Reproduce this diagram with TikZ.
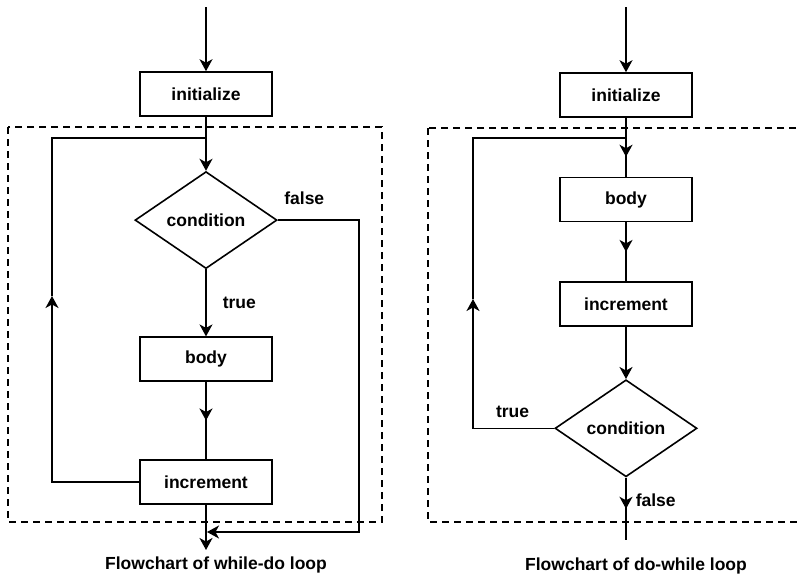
\documentclass[tikz,border=0pt]{standalone}
\usepackage{fontspec}
\setmainfont{Liberation Sans}
\usetikzlibrary{shapes.geometric, arrows.meta, positioning,
                decorations.markings, calc}
\tikzset{
  txt/.style={font=\fontsize{17.5}{20}\selectfont\bfseries},
  box/.style={
    rectangle, draw, line width=1.6pt, minimum width=132pt,
    minimum height=44pt, inner sep=0pt, txt
  },
  cond/.style={
    diamond, draw, line width=1.6pt, minimum width=142pt,
    minimum height=97pt, inner sep=0pt, txt
  },
  line/.style={line width=1.6pt},
  arr/.style={line, -{Stealth[length=12pt, width=13pt, inset=3.5pt]}},
  midarr/.style={line, decoration={markings,
      mark=at position #1 with {\arrow{Stealth[length=12pt, width=13pt, inset=3.5pt]}}},
    postaction=decorate},
  midarr/.default=0.5,
  lbl/.style={txt, inner sep=1pt},
  frame/.style={line width=1.6pt, dash pattern=on 7pt off 5pt},
  captxt/.style={txt, inner sep=0pt}
}

\begin{document}
\begin{tikzpicture}[x=1pt, y=-1pt]
  \useasboundingbox (0,0) rectangle (798,576);

  % while-do loop
  \node[box] (ini1) at (206,94) {initialize};
  \node[cond, below=54pt of ini1] (cnd1) {condition};
  \node[box, below=67pt of cnd1] (bdy1) {body};
  \node[box, below=77pt of bdy1] (inc1) {increment};
  \coordinate (in1)  at (206,7);
  \coordinate (jn1)  at (206,138);
  \coordinate (up1)  at (52,296);
  \coordinate (fr1)  at (359,532);
  \coordinate (fj1)  at (207,532);
  \coordinate (out1) at (206,550);

  \draw[frame] (8,127) rectangle (382,522);
  \draw[arr] (in1) -- (ini1);
  \draw[arr] (ini1) -- (cnd1);
  \draw[arr] (cnd1) -- node[lbl, right=15pt] {true} (bdy1);
  \draw[midarr] (bdy1) -- (inc1);
  \draw[arr] (inc1) -- (out1);
  \draw[arr] (inc1.west) -| (up1);
  \draw[line] (up1) |- (jn1);
  \draw[arr] (cnd1.east) -| node[lbl, pos=0.163, above=14pt] {false} (fr1) |- (fj1);
  \node[captxt] (cap1) at (216,565) {Flowchart of while-do loop};

  % do-while loop
  \node[box] (ini2) at (626,95) {initialize};
  \node[box, below=59pt of ini2] (bdy2) {body};
  \node[box, below=59pt of bdy2] (inc2) {increment};
  \node[cond, below=52pt of inc2] (cnd2) {condition};
  \coordinate (in2)  at (626,7);
  \coordinate (jn2)  at (626,138);
  \coordinate (up2)  at (473,299);
  \coordinate (out2) at (626,540);

  \draw[frame] (428,128) rectangle (812,522);
  \draw[arr] (in2) -- (ini2);
  \draw[midarr=0.66] (ini2) -- (bdy2);
  \draw[midarr] (bdy2) -- (inc2);
  \draw[arr] (inc2) -- (cnd2);
  \draw[arr] (cnd2.west) -| node[lbl, pos=0.256, above=9pt] {true} (up2);
  \draw[line] (up2) |- (jn2);
  \draw[midarr] (cnd2) -- node[lbl, pos=0.37, right=8pt] {false} (out2);
  \node[captxt] (cap2) at (636,566) {Flowchart of do-while loop};
\end{tikzpicture}
\end{document}
